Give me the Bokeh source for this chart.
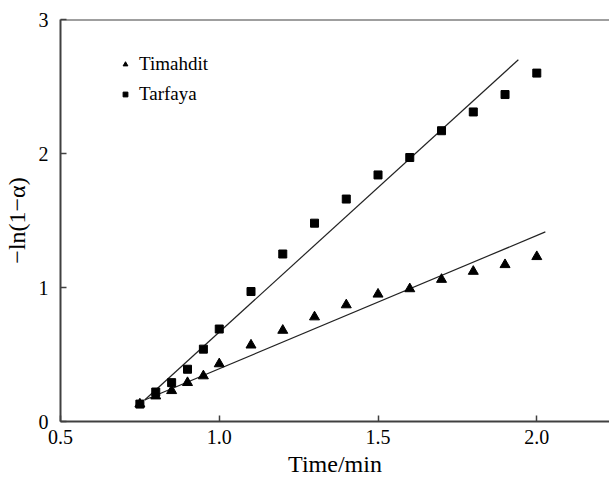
from bokeh.plotting import figure
from bokeh.models import Range1d, FixedTicker, Legend, LegendItem, Span
from bokeh.embed import file_html
from bokeh.resources import INLINE

# Data
time = [0.75, 0.8, 0.85, 0.9, 0.95, 1.0, 1.1, 1.2, 1.3, 1.4, 1.5, 1.6, 1.7, 1.8, 1.9, 2.0]
timahdit = [0.13, 0.19, 0.23, 0.29, 0.34, 0.43, 0.57, 0.68, 0.78, 0.87, 0.95, 0.99, 1.06, 1.12, 1.17, 1.23]
tarfaya = [0.13, 0.22, 0.29, 0.39, 0.54, 0.69, 0.97, 1.25, 1.48, 1.66, 1.84, 1.97, 2.17, 2.31, 2.44, 2.60]
fit_timahdit_x = [0.765, 2.027]
fit_timahdit_y = [0.16, 1.415]
fit_tarfaya_x = [0.765, 1.942]
fit_tarfaya_y = [0.16, 2.70]
x_ticks = [0.5, 1.0, 1.5, 2.0]
y_ticks = [0, 1, 2, 3]
x_tick_labels = {0.5: "0.5", 1.0: "1.0", 1.5: "1.5", 2.0: "2.0"}

FONT = "Liberation Serif"
AXC = "#404040"

p = figure(width=609, height=479, output_backend="svg", toolbar_location=None,
           x_range=Range1d(0.5, 2.229), y_range=Range1d(0, 3),
           min_border_left=53, min_border_right=0, min_border_top=19, min_border_bottom=57)
p.outline_line_color = None
p.grid.visible = False
p.background_fill_color = "white"

for ax in (p.xaxis[0], p.yaxis[0]):
    ax.axis_line_color = AXC
    ax.axis_line_width = 2
    ax.major_tick_line_color = AXC
    ax.major_tick_line_width = 1.5
    ax.major_tick_in = 6
    ax.major_tick_out = 0
    ax.minor_tick_line_color = None
    ax.major_label_text_font = FONT
    ax.major_label_text_font_size = "20px"
    ax.major_label_text_color = "black"
    ax.axis_label_text_font = FONT
    ax.axis_label_text_font_size = "24px"
    ax.axis_label_text_font_style = "normal"
    ax.axis_label_text_color = "black"

p.xaxis[0].ticker = FixedTicker(ticks=x_ticks)
p.xaxis[0].major_label_overrides = x_tick_labels
p.xaxis[0].axis_label = "Time/min"
p.xaxis[0].major_label_standoff = 8
p.xaxis[0].axis_label_standoff = 4

p.yaxis[0].ticker = FixedTicker(ticks=y_ticks)
p.yaxis[0].axis_label = "\u2212ln(1\u2212\u03b1)"
p.yaxis[0].major_label_standoff = 12
p.yaxis[0].axis_label_standoff = 6

p.add_layout(Span(location=3, dimension="width", line_color=AXC, line_width=2))

p.line(fit_tarfaya_x, fit_tarfaya_y, line_color="#222222", line_width=1.2)
p.line(fit_timahdit_x, fit_timahdit_y, line_color="#222222", line_width=1.2)
r_tri = p.scatter(time, timahdit, marker="triangle", size=10, fill_color="black", line_color="black")
r_sq = p.scatter(time, tarfaya, marker="square", size=8, fill_color="black", line_color="black")

legend = Legend(items=[LegendItem(label="Timahdit", renderers=[r_tri]),
                       LegendItem(label="Tarfaya", renderers=[r_sq])],
                location=(59, 316))
legend.border_line_color = None
legend.background_fill_alpha = 0
legend.label_text_font = FONT
legend.label_text_font_size = "19px"
legend.label_text_color = "black"
legend.glyph_width = 12
legend.label_standoff = 8
legend.spacing = 8
legend.padding = 0
legend.margin = 0
p.add_layout(legend, "center")

open("out.html", "w").write(file_html(p, INLINE))
